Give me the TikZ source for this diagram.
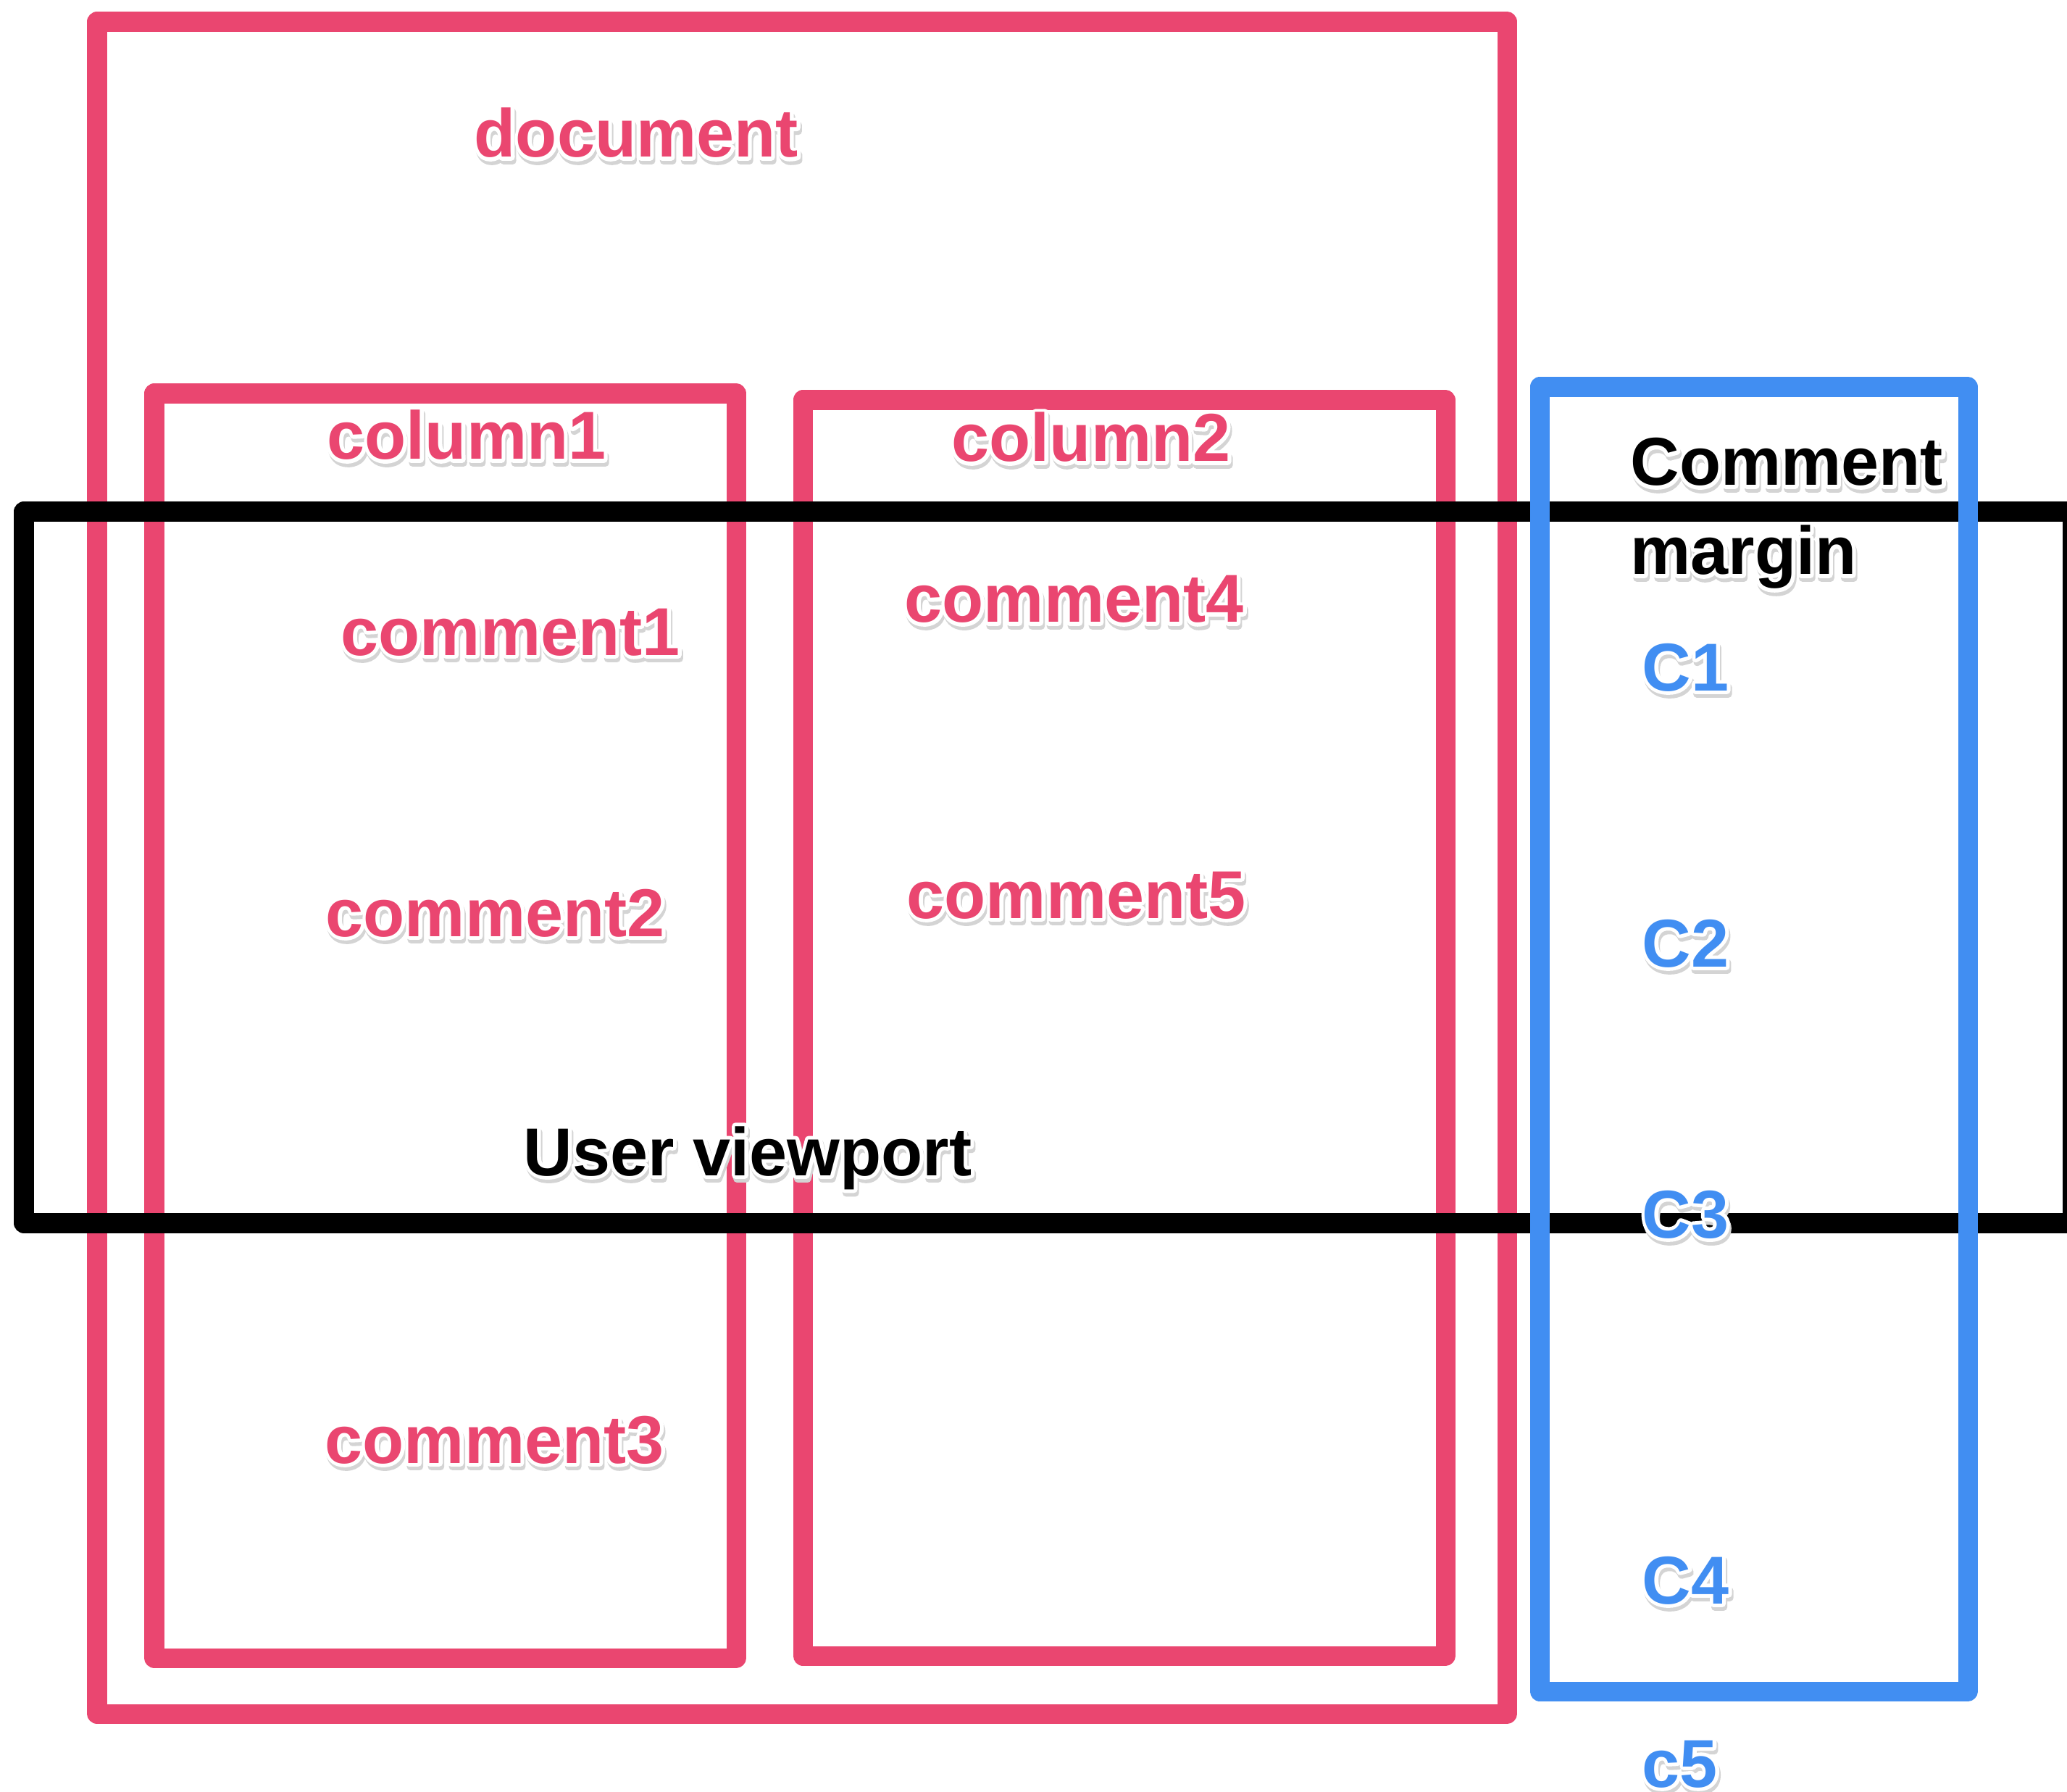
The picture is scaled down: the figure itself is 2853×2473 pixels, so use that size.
\documentclass[tikz,border=0pt]{standalone}
\usepackage{fontspec}
\setmainfont{Liberation Sans}
\definecolor{pinkc}{HTML}{EA4670}
\definecolor{bluec}{HTML}{418EF2}
\newcommand{\strk}[2]{\special{pdf:literal direct #1 Tr #2 w 1 j 1 J}}
\newcommand{\lbltext}[5]{%
  \node[shd] (#1-sh) at (#2+2,#3+5) {\strk{2}{2.8}#5\strk{0}{1}};
  \node[lbl,text=white] (#1-halo) at (#2,#3) {\strk{1}{2.8}#5\strk{0}{1}};
  \node[lbl,text=#4] (#1) at (#2,#3) {#5};}
\begin{document}
\begin{tikzpicture}[x=0.01cm,y=-0.01cm,
  frame/.style={line width=0.27cm, line join=round},
  lbl/.style={anchor=base west, inner sep=0pt, font=\fontsize{26.6}{30}\selectfont\bfseries},
  shd/.style={lbl, text=black!17}]
\useasboundingbox (0,0) rectangle (2853,2473);
\fill[white] (0,0) rectangle (2853,2473);
% pink frames
\draw[frame,pinkc] (134,30) rectangle (2080,2365);
\draw[frame,pinkc] (213,543) rectangle (1016,2288);
\draw[frame,pinkc] (1108,552) rectangle (1995,2285);
% user viewport
\draw[frame,black] (33,706) rectangle (2860,1688);
% comment margin
\draw[frame,bluec] (2125,534) rectangle (2716,2334);
% labels
\lbltext{doc}{654}{217}{pinkc}{document}
\lbltext{col1}{451}{634}{pinkc}{column1}
\lbltext{cm1}{470}{904}{pinkc}{comment1}
\lbltext{cm2}{449}{1292}{pinkc}{comment2}
\lbltext{cm3}{448}{2019}{pinkc}{comment3}
\lbltext{col2}{1313}{637}{pinkc}{column2}
\lbltext{cm4}{1248}{859}{pinkc}{comment4}
\lbltext{cm5}{1251}{1267}{pinkc}{comment5}
\lbltext{uv}{722}{1622}{black}{User viewport}
\lbltext{mg1}{2250}{670}{black}{Comment}
\lbltext{mg2}{2250}{793}{black}{margin}
\lbltext{c1}{2266}{953}{bluec}{C1}
\lbltext{c2}{2266}{1334}{bluec}{C2}
\lbltext{c3}{2266}{1708}{bluec}{C3}
\lbltext{c4}{2266}{2213}{bluec}{C4}
\lbltext{c5}{2266}{2466}{bluec}{c5}
\end{tikzpicture}
\end{document}
